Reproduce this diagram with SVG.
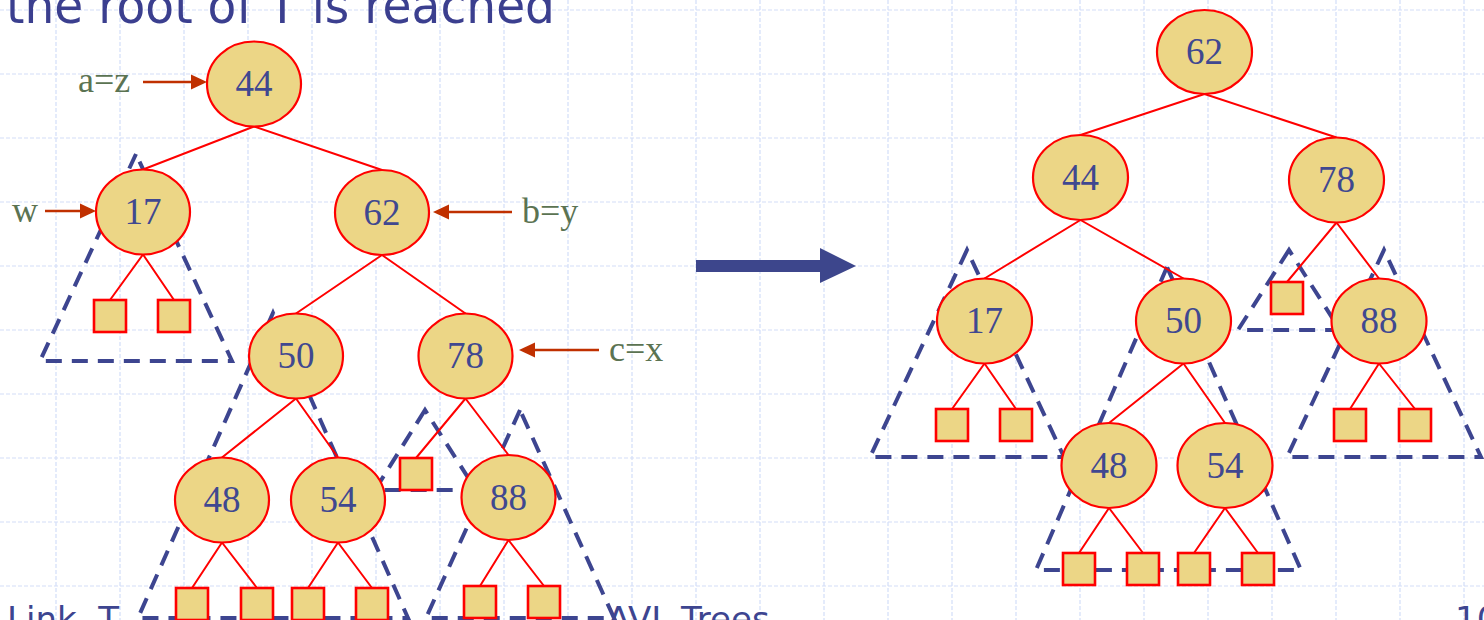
<svg xmlns="http://www.w3.org/2000/svg" width="1484" height="620" viewBox="0 0 1484 620">
<style>
.grid{stroke:#d3def8;stroke-width:1.2;stroke-dasharray:4 2;fill:none}
.tri{fill:none;stroke:#3d4590;stroke-width:4;stroke-dasharray:16 10}
.edge{stroke:#ff0000;stroke-width:2;fill:none}
.node ellipse{fill:#ecd686;stroke:#ff0000;stroke-width:2.2}
.node text{font-family:"Liberation Serif","Times New Roman",serif;font-size:37px;fill:#404890;text-anchor:middle}
.leaf{fill:#ecd686;stroke:#ff0000;stroke-width:2.6}
.lbl{font-family:"Liberation Serif","Times New Roman",serif;font-size:36px;fill:#5b7352}
.ptr{stroke:#c03000;stroke-width:2.5}
.ptrh{fill:#c03000}
.foot{font-family:"DejaVu Sans","Liberation Sans",sans-serif;font-size:34px;fill:#3d4590}
</style>
<rect width="1484" height="620" fill="#ffffff"/>
<g id="grid">
<path class="grid" d="M56 0V620M120 0V620M184 0V620M248 0V620M312 0V620M376 0V620M440 0V620M504 0V620M568 0V620M632 0V620M696 0V620M760 0V620M824 0V620M888 0V620M952 0V620M1016 0V620M1080 0V620M1144 0V620M1208 0V620M1272 0V620M1336 0V620M1400 0V620M1464 0V620"/>
<path class="grid" d="M0 10H1484M0 74H1484M0 138H1484M0 202H1484M0 266H1484M0 330H1484M0 394H1484M0 458H1484M0 522H1484M0 586H1484"/>
</g>
<text id="title" x="6" y="23" font-family="DejaVu Sans, Liberation Sans, sans-serif" font-size="50" fill="#3b3f8f" textLength="549" lengthAdjust="spacingAndGlyphs">the root of T is reached</text>
<g id="subtrees">
<polygon class="tri" points="136,154 40,361 232,361"/>
<polygon class="tri" points="273,313 138,618 408,618"/>
<polygon class="tri" points="425,410 375,490 476,490"/>
<polygon class="tri" points="520,410 426,618 614,618"/>
<polygon class="tri" points="967,250 870,457 1064,457"/>
<polygon class="tri" points="1167,267 1036,570 1301,570"/>
<polygon class="tri" points="1289,250 1238,330 1340,330"/>
<polygon class="tri" points="1384,250 1287,457 1481,457"/>
</g>
<g id="connectors">
<path class="edge" d="M254 126.5L143 169.5M254 126.5L382 170M143 254.5L110 300M143 254.5L174 300M382 255L296 313.5M382 255L465.5 313.5M296 398.5L222 457.5M296 398.5L338 457.5M465.5 398.5L416 458M465.5 398.5L508.5 455M222 542.5L192 588M222 542.5L257 588M338 542.5L308 588M338 542.5L372 588M508.5 540L480 586M508.5 540L544 586"/>
<path class="edge" d="M1204.5 94L1080.5 135M1204.5 94L1336.5 137.5M1080.5 220L984.5 278.5M1080.5 220L1183.5 278.5M1336.5 222.5L1287 282M1336.5 222.5L1379 278.5M984.5 363.5L952 409M984.5 363.5L1016 409M1183.5 363.5L1109 423M1183.5 363.5L1225 423M1379 363.5L1350 409M1379 363.5L1415 409M1109 508L1079 553M1109 508L1143 553M1225 508L1194 553M1225 508L1258 553"/>
</g>
<g id="L44" class="node"><ellipse cx="254" cy="84" rx="47" ry="42.5"/><text x="254" y="96">44</text></g>
<g id="L17" class="node"><ellipse cx="143" cy="212" rx="47" ry="42.5"/><text x="143" y="224">17</text></g>
<g id="L62" class="node"><ellipse cx="382" cy="212.5" rx="47" ry="42.5"/><text x="382" y="224.5">62</text></g>
<g id="L50" class="node"><ellipse cx="296" cy="356" rx="47" ry="42.5"/><text x="296" y="368">50</text></g>
<g id="L78" class="node"><ellipse cx="465.5" cy="356" rx="47" ry="42.5"/><text x="465.5" y="368">78</text></g>
<g id="L48" class="node"><ellipse cx="222" cy="500" rx="47" ry="42.5"/><text x="222" y="512">48</text></g>
<g id="L54" class="node"><ellipse cx="338" cy="500" rx="47" ry="42.5"/><text x="338" y="512">54</text></g>
<g id="L88" class="node"><ellipse cx="508.5" cy="497.5" rx="47" ry="42.5"/><text x="508.5" y="509.5">88</text></g>
<g id="Lleaves">
<rect class="leaf" x="94" y="300" width="32" height="32"/>
<rect class="leaf" x="158" y="300" width="32" height="32"/>
<rect class="leaf" x="400" y="458" width="32" height="32"/>
<rect class="leaf" x="176" y="588" width="32" height="32"/>
<rect class="leaf" x="241" y="588" width="32" height="32"/>
<rect class="leaf" x="292" y="588" width="32" height="32"/>
<rect class="leaf" x="356" y="588" width="32" height="32"/>
<rect class="leaf" x="464" y="586" width="32" height="32"/>
<rect class="leaf" x="528" y="586" width="32" height="32"/>
</g>
<g id="R62" class="node"><ellipse cx="1204.5" cy="52" rx="47.5" ry="42"/><text x="1204.5" y="64">62</text></g>
<g id="R44" class="node"><ellipse cx="1080.5" cy="177.5" rx="47.5" ry="42.5"/><text x="1080.5" y="189.5">44</text></g>
<g id="R78" class="node"><ellipse cx="1336.5" cy="180" rx="47.5" ry="42.5"/><text x="1336.5" y="192">78</text></g>
<g id="R17" class="node"><ellipse cx="984.5" cy="321" rx="47.5" ry="42.5"/><text x="984.5" y="333">17</text></g>
<g id="R50" class="node"><ellipse cx="1183.5" cy="321" rx="47.5" ry="42.5"/><text x="1183.5" y="333">50</text></g>
<g id="R88" class="node"><ellipse cx="1379" cy="321" rx="47.5" ry="42.5"/><text x="1379" y="333">88</text></g>
<g id="R48" class="node"><ellipse cx="1109" cy="465.5" rx="47.5" ry="42.5"/><text x="1109" y="477.5">48</text></g>
<g id="R54" class="node"><ellipse cx="1225" cy="465.5" rx="47.5" ry="42.5"/><text x="1225" y="477.5">54</text></g>
<g id="Rleaves">
<rect class="leaf" x="936" y="409" width="32" height="32"/>
<rect class="leaf" x="1000" y="409" width="32" height="32"/>
<rect class="leaf" x="1271" y="282" width="32" height="32"/>
<rect class="leaf" x="1334" y="409" width="32" height="32"/>
<rect class="leaf" x="1399" y="409" width="32" height="32"/>
<rect class="leaf" x="1063" y="553" width="32" height="32"/>
<rect class="leaf" x="1127" y="553" width="32" height="32"/>
<rect class="leaf" x="1178" y="553" width="32" height="32"/>
<rect class="leaf" x="1242" y="553" width="32" height="32"/>
</g>
<g id="pointers">
<text class="lbl" x="78" y="92">a=z</text>
<line class="ptr" x1="143" y1="82" x2="193" y2="82"/>
<polygon class="ptrh" points="191,74.5 207,82 191,89.5"/>
<text class="lbl" x="12" y="222">w</text>
<line class="ptr" x1="45" y1="211" x2="82" y2="211"/>
<polygon class="ptrh" points="80,203.5 96,211 80,218.5"/>
<text class="lbl" x="522" y="223">b=y</text>
<line class="ptr" x1="447" y1="212" x2="512" y2="212"/>
<polygon class="ptrh" points="449,204.5 433,212 449,219.5"/>
<text class="lbl" x="609" y="361">c=x</text>
<line class="ptr" x1="533" y1="350" x2="599" y2="350"/>
<polygon class="ptrh" points="535,342.5 519,350 535,357.5"/>
</g>
<g id="transform-arrow">
<polygon fill="#3d468c" points="696,260 820,260 820,248 856,266 820,283 820,272 696,272"/>
</g>
<g id="footer">
<text class="foot" x="7" y="631">Link, T</text>
<text class="foot" x="607" y="631">AVL Trees</text>
<text class="foot" x="1455" y="631">10</text>
</g>
</svg>
